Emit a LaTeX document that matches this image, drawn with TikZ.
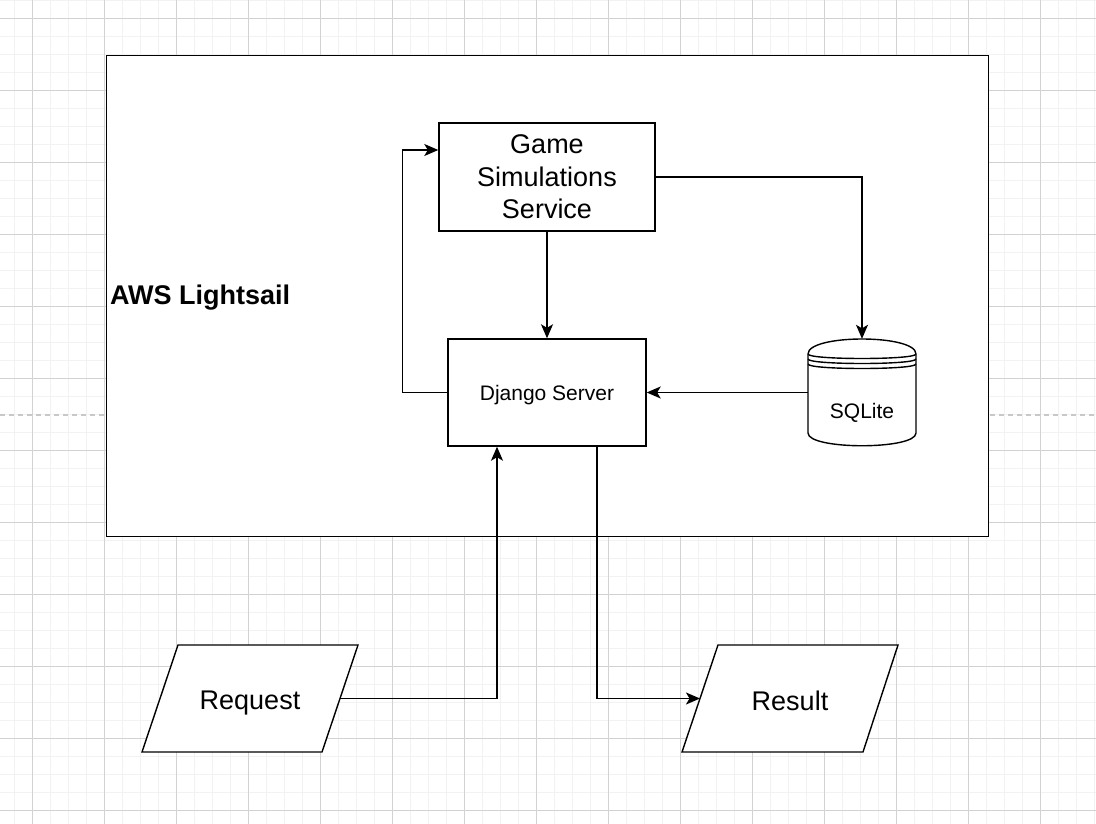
\documentclass[tikz,border=0pt]{standalone}
\usepackage{fontspec}
\setmainfont{Liberation Sans}
\usetikzlibrary{arrows.meta}
\definecolor{gridminor}{HTML}{F2F2F2}
\definecolor{gridmajor}{HTML}{D2D2D2}
\definecolor{dashgray}{HTML}{C8C8C8}
\tikzset{
  ln/.style={line width=1.4pt, draw=black},
  box/.style={ln, fill=white, rectangle, inner sep=0pt},
  big/.style={font=\fontsize{27}{32.5}\selectfont},
  small/.style={font=\fontsize{21}{25}\selectfont},
  arr/.style={line width=1.4pt, -{Stealth[length=14pt,width=12pt,inset=3.5pt]}},
}
\begin{document}
\begin{tikzpicture}[x=1pt,y=-1pt]
\useasboundingbox (0,0) rectangle (1096,824);
\fill[white] (0,0) rectangle (1096,824);
% grid
\foreach \k in {0,...,60} {\draw[gridminor, line width=1pt] ({14.3+18*\k},0) -- ({14.3+18*\k},824);}
\foreach \k in {0,...,46} {\draw[gridminor, line width=1pt] (0,{0.3+18*\k}) -- (1096,{0.3+18*\k});}
\foreach \k in {0,...,15} {\draw[gridmajor, line width=1pt] ({32.3+72*\k},0) -- ({32.3+72*\k},824);}
\foreach \k in {0,...,11} {\draw[gridmajor, line width=1pt] (0,{18.3+72*\k}) -- (1096,{18.3+72*\k});}
\draw[dashgray, line width=1.2pt, dash pattern=on 5pt off 4pt] (0,415) -- (1096,415);
% outer container
\node[box, anchor=north west, minimum width=882pt, minimum height=481pt] (lightsail) at (106,55) {};
\node[anchor=west, inner sep=0pt, font=\fontsize{27}{32.5}\selectfont\bfseries] (awslabel) at (110,298) {AWS Lightsail};
% game simulations service
\node[box, big, align=center, minimum width=216pt, minimum height=108pt] (game) at (547,177) {Game\\[0pt]Simulations\\Service};
% django
\node[box, small, text depth=0pt, minimum width=198pt, minimum height=107pt] (django) at (547,392.5) {Django Server};
% sqlite cylinder
\node[minimum width=108pt, minimum height=107pt, inner sep=0pt] (sqlite) at (862,392.5) {};
\filldraw[ln, fill=white] (808,354) .. controls (808,334) and (916,334) .. (916,354) -- (916,433)
  .. controls (916,450) and (808,450) .. (808,433) -- cycle;
\draw[ln] (808,354) .. controls (808,360) and (916,360) .. (916,354);
\draw[ln] (808,359) .. controls (808,365) and (916,365) .. (916,359);
\draw[ln] (808,364) .. controls (808,370) and (916,370) .. (916,364);
\node[small] (sqltext) at (862,413) {SQLite};
% request
\filldraw[ln, fill=white] (178,645) -- (358,645) -- (322,752) -- (142,752) -- cycle;
\node[big] (request) at (250,703) {Request};
\coordinate (reqR) at (340,698.5);
% result
\filldraw[ln, fill=white] (718,645) -- (898,645) -- (863,752) -- (682,752) -- cycle;
\node[big] (result) at (790,700.5) {Result};
\coordinate (resL) at (700,698.5);
% connectors
\draw[arr] (game.south) -- (django.north);
\draw[arr] (game.east) -| (sqlite.north);
\draw[arr] (django.west) -- ++(-45,0) |- ([yshift=27pt]game.west);
\draw[arr] (sqlite.west) -- (django.east);
\draw[arr] (reqR) -| ([xshift=-50pt]django.south);
\draw[arr] ([xshift=50pt]django.south) |- (resL);
\end{tikzpicture}
\end{document}
